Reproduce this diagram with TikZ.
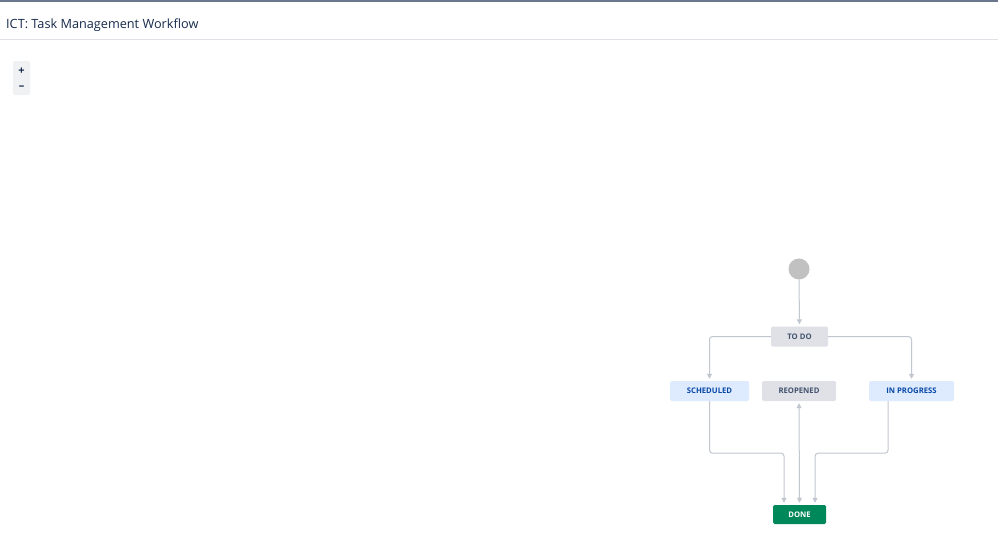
\documentclass[tikz,border=0pt]{standalone}
\usepackage{fontspec}
\setmainfont{Open Sans}
\usetikzlibrary{arrows.meta}
\definecolor{ink}{HTML}{172B4D}
\definecolor{topline}{HTML}{6B778C}
\definecolor{sep}{HTML}{DFE1E6}
\definecolor{greybox}{HTML}{DFE1E6}
\definecolor{greytext}{HTML}{42526E}
\definecolor{bluebox}{HTML}{DEEBFF}
\definecolor{bluetext}{HTML}{0747A6}
\definecolor{greenbox}{HTML}{00875A}
\definecolor{edge}{HTML}{C1C7D0}
\definecolor{startc}{HTML}{C1C1C1}
\definecolor{zoombg}{HTML}{F0F1F3}
\tikzset{
  status/.style={rounded corners=1.5pt, inner sep=0pt, minimum height=20pt,
    font=\fontsize{7.7}{9}\selectfont\bfseries},
  grey/.style={status, fill=greybox, text=greytext},
  blue/.style={status, fill=bluebox, text=bluetext},
  green/.style={status, fill=greenbox, text=white},
  arr/.style={draw=edge, line width=1pt, rounded corners=3pt,
    -{Triangle[length=5pt,width=5pt]}, shorten >=2pt},
}
\begin{document}
\begin{tikzpicture}[x=1pt,y=-1pt]
\useasboundingbox[fill=white] (0,0) rectangle (998,557);
% header
\fill[topline] (0,0) rectangle (998,2);
\draw[sep, line width=1pt] (0,39.5) -- (998,39.5);
\node[anchor=base west, text=ink, font=\fontsize{12.7}{16}\selectfont, inner sep=0pt] (title) at (6,28) {ICT: Task Management Workflow};
% zoom control
\fill[zoombg, rounded corners=2pt] (13,61) rectangle (30,95);
\node[font=\fontsize{11}{12}\selectfont\bfseries, text=ink, inner sep=0pt] (plus) at (21.5,71) {+};
\node[font=\fontsize{11}{12}\selectfont\bfseries, text=ink, inner sep=0pt] (minus) at (21.5,87.5) {\textendash};
% workflow
\node[circle, fill=startc, minimum size=21pt, inner sep=0pt] (start) at (799,269) {};
\node[grey, minimum width=57pt] (todo) at (799.5,336.5) {TO DO};
\node[blue, minimum width=79pt] (sch) at (709.5,391) {SCHEDULED};
\node[grey, minimum width=74pt] (reo) at (799,391) {REOPENED};
\node[blue, minimum width=85pt] (inp) at (911.5,391) {IN PROGRESS};
\node[green, minimum width=53pt, minimum height=19pt] (done) at (799.5,514.5) {DONE};
% connectors
\draw[arr] (start) -- (todo);
\draw[arr] (todo.west) -| (sch.north);
\draw[arr] (todo.east) -| (inp.north);
\draw[arr] (sch.south) -- ++(0,52) -| ([xshift=-15.5]done.north);
\draw[arr] ([xshift=-23.5]inp.south) -- ++(0,52) -| ([xshift=15.5]done.north);
\draw[arr, {Triangle[length=5pt,width=5pt]}-{Triangle[length=5pt,width=5pt]}, shorten <=2pt] (done.north) -- (reo.south);
\end{tikzpicture}
\end{document}
